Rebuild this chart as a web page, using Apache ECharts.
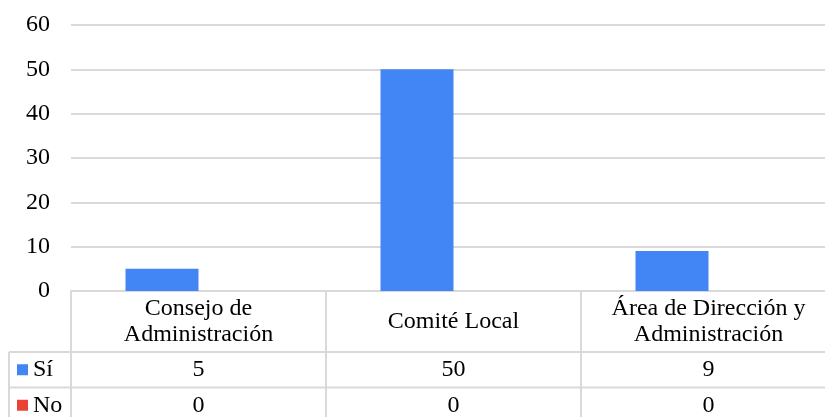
<!DOCTYPE html>
<html>
<head>
<meta charset="utf-8">
<script src="https://cdn.jsdelivr.net/npm/echarts@6/dist/echarts.min.js"></script>
<style>
  html, body { margin: 0; padding: 0; background: #fff; overflow: hidden; }
  /* the table's last column runs past the right edge of the page */
  #chart { width: 845px; height: 417px; }
</style>
</head>
<body>
<div id="chart"></div>
<script>
// Categories, series and values
const categories = ['Consejo de\nAdministración', 'Comité Local', 'Área de Dirección y\nAdministración'];
const seriesNames = ['Sí', 'No'];
const siValues = [5, 50, 9];
const noValues = [0, 0, 0];
const yTicks = [0, 10, 20, 30, 40, 50, 60];
const seriesColors = ['#4285f4', '#ea4335'];

// Styling constants
const FONT = '"Liberation Serif", "Times New Roman", serif';
const FONT_SIZE = 24;
const TEXT = '#000000';
const LINE = '#d9d9d9';
const HEADER_H = 61;
const ROW_H = 35.5;
const KEY_W = 62;

const chart = echarts.init(document.getElementById('chart'), null, { renderer: 'canvas' });

function gridLine(x1, y1, x2, y2) {
  return { type: 'line', shape: { x1, y1, x2, y2 }, style: { stroke: LINE, lineWidth: 2 } };
}

function cellText(text, x, y, align) {
  return {
    type: 'text',
    style: {
      text, x, y,
      align: align || 'center',
      verticalAlign: 'middle',
      fontFamily: FONT,
      fontSize: FONT_SIZE,
      lineHeight: 26,
      fill: TEXT
    }
  };
}

// Data table under the category axis: one column per category,
// plus the series key column drawn with the first one.
function renderTable(params, api) {
  const idx = api.value(0);
  const origin = api.coord([idx, 0]);
  const cx = origin[0];
  const y0 = origin[1];
  const bw = api.size([1, 0])[0];
  const left = cx - bw / 2;
  const right = cx + bw / 2;
  const rowValues = [api.value(1), api.value(2)];
  const bottom = y0 + HEADER_H + ROW_H * 2;
  const children = [];

  children.push(gridLine(left, y0, left, bottom + 10));
  for (let r = 0; r < rowValues.length; r++) {
    const top = y0 + HEADER_H + ROW_H * r;
    children.push(gridLine(left, top, right, top));
    children.push(cellText(String(rowValues[r]), cx, top + ROW_H / 2));
  }
  children.push(cellText(categories[idx], cx, y0 + HEADER_H / 2));

  if (idx === 0) {
    const keyLeft = left - KEY_W;
    children.push(gridLine(keyLeft, y0 + HEADER_H, keyLeft, bottom + 10));
    for (let r = 0; r < seriesNames.length; r++) {
      const top = y0 + HEADER_H + ROW_H * r;
      const mid = top + ROW_H / 2;
      children.push(gridLine(keyLeft, top, left, top));
      children.push({
        type: 'rect',
        shape: { x: keyLeft + 8, y: mid - 5.5, width: 11, height: 11 },
        style: { fill: seriesColors[r] }
      });
      children.push(cellText(seriesNames[r], keyLeft + 24, mid, 'left'));
    }
  }
  return { type: 'group', children };
}

chart.setOption({
  animation: false,
  backgroundColor: '#ffffff',
  grid: { left: 71, top: 25, right: 9, height: 266, containLabel: false },
  xAxis: {
    type: 'category',
    data: categories,
    axisLine: { show: true, lineStyle: { color: LINE, width: 2 } },
    axisTick: { show: false },
    axisLabel: { show: false },
    splitLine: { show: false }
  },
  yAxis: {
    type: 'value',
    min: yTicks[0],
    max: yTicks[yTicks.length - 1],
    interval: yTicks[1] - yTicks[0],
    axisLine: { show: false },
    axisTick: { show: false },
    axisLabel: {
      color: TEXT,
      fontFamily: FONT,
      fontSize: FONT_SIZE,
      margin: 21
    },
    splitLine: { show: true, lineStyle: { color: LINE, width: 2 } }
  },
  series: [
    {
      name: seriesNames[0],
      type: 'bar',
      data: siValues,
      barWidth: 73,
      barGap: '0%',
      itemStyle: { color: seriesColors[0] }
    },
    {
      name: seriesNames[1],
      type: 'bar',
      data: noValues,
      barWidth: 73,
      barGap: '0%',
      itemStyle: { color: seriesColors[1] }
    },
    {
      name: 'table',
      type: 'custom',
      clip: false,
      silent: true,
      z: 5,
      encode: { x: 0, y: 2 },
      data: categories.map((c, i) => [i, siValues[i], noValues[i]]),
      renderItem: renderTable
    }
  ]
});
</script>
</body>
</html>
